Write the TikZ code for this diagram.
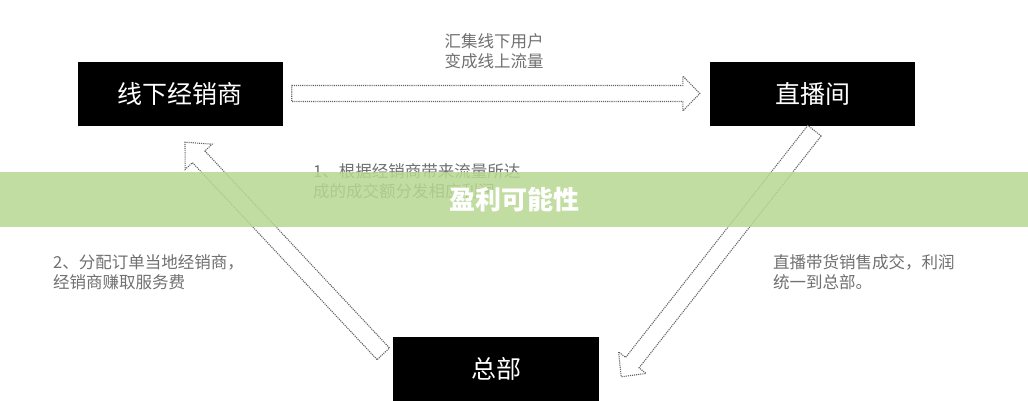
\documentclass[tikz,border=0pt]{standalone}
\usepackage{fontspec}
\setmainfont{Noto Sans CJK SC}
\usetikzlibrary{calc,positioning}
\definecolor{notegray}{RGB}{112,112,112}
\definecolor{dotgray}{RGB}{95,100,105}
\definecolor{bandgreen}{RGB}{184,216,146}
% hollow block arrow: tail, tip, shaft half width, head half width, head length
\newcommand{\hollowarrow}[5]{%
	\coordinate (#1-#2-h) at ($(#2)!#5!(#1)$);
	\draw[flowarrow] ($(#1)!#3!90:(#2)$) -- ($(#1-#2-h)!#3!90:(#2)$) -- ($(#1-#2-h)!#4!90:(#2)$) -- (#2) -- ($(#1-#2-h)!#4!-90:(#2)$) -- ($(#1-#2-h)!#3!-90:(#2)$) -- ($(#1)!#3!-90:(#2)$) -- cycle;
}
\begin{document}
\begin{tikzpicture}[x=1pt, y=1pt,
	box/.style={fill=black, text=white, minimum width=205pt, minimum height=64pt, font=\fontsize{25}{30}\selectfont},
	note/.style={text=notegray, align=left, font=\fontsize{16.5}{20}\selectfont, inner sep=0pt},
	flowarrow/.style={draw=dotgray, densely dotted, line width=1.1pt}]
	\fill[white] (0,0) rectangle (1028,400);
	\useasboundingbox (0,0) rectangle (1028,400);
	\node[box] (dealer) at (180,306.5) {线下经销商};
	\node[box] (live) at (812.5,306.5) {直播间};
	\node[box, minimum width=206pt] (hq) at (496,31.5) {总部};
	%\draw[red] (0,0) grid[step=50] (1028,400);
	\coordinate (dealer-out) at ($(dealer.east)+(9,0)$);
	\coordinate (live-in) at ($(live.west)+(-10,0)$);
	\coordinate (live-out) at ($(live.south)+(2,-5)$);
	\coordinate (hq-in) at ($(hq.north east)+(22,-40.5)$);
	\coordinate (hq-out) at ($(hq.north west)+(-9.5,-17.5)$);
	\coordinate (dealer-in) at ($(dealer.south)+(5,-16.5)$);
	\hollowarrow{dealer-out}{live-in}{8pt}{17.5pt}{17pt}
	\hollowarrow{live-out}{hq-in}{8.5pt}{17.5pt}{18pt}
	\hollowarrow{hq-out}{dealer-in}{8.5pt}{18.5pt}{20pt}
	\node[note, align=center] (topnote) at (494,349) {汇集线下用户\\变成线上流量};
	\node[note, anchor=west] (note1) at (313,219) {1、根据经销商带来流量所达\\成的成交额分发相应利润};
	\node[note, anchor=west] (note2) at (53,127.5) {2、分配订单当地经销商，\\经销商赚取服务费};
	\node[note, anchor=west] (note3) at (773,127.5) {直播带货销售成交，利润\\统一到总部。};
	\fill[bandgreen, fill opacity=0.85] (0,173) rectangle (1028,228);
	\node[text=white, font=\fontsize{26}{30}\selectfont\bfseries] (title) at (514,200) {盈利可能性};
\end{tikzpicture}
\end{document}
